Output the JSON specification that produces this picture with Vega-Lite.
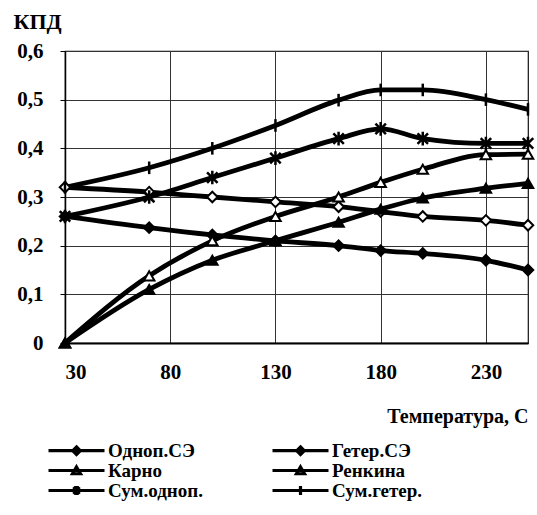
{
  "$schema": "https://vega.github.io/schema/vega-lite/v6.json",
  "width": 463,
  "height": 292,
  "autosize": {"type": "none"},
  "padding": {"left": 65, "top": 51, "right": 9, "bottom": 172},
  "background": "white",
  "config": {
    "font": "Liberation Serif",
    "view": {"stroke": "#111", "strokeWidth": 1.2},
    "axis": {
      "labelFont": "Liberation Serif",
      "labelFontWeight": "bold",
      "labelFontSize": 21,
      "labelColor": "black",
      "titleFont": "Liberation Serif",
      "titleFontWeight": "bold",
      "titleFontSize": 20,
      "titleColor": "black",
      "gridColor": "#333",
      "gridWidth": 1,
      "gridOpacity": 1,
      "domainColor": "black",
      "tickColor": "black"
    },
    "legend": {
      "labelFont": "Liberation Serif",
      "labelFontWeight": "bold",
      "labelFontSize": 19,
      "labelColor": "black"
    }
  },
  "data": {
    "values": [
      {"t": 30, "series": "Одноп.СЭ", "v": 0.26},
      {"t": 70, "series": "Одноп.СЭ", "v": 0.237},
      {"t": 100, "series": "Одноп.СЭ", "v": 0.222},
      {"t": 130, "series": "Одноп.СЭ", "v": 0.21},
      {"t": 160, "series": "Одноп.СЭ", "v": 0.2},
      {"t": 180, "series": "Одноп.СЭ", "v": 0.19},
      {"t": 200, "series": "Одноп.СЭ", "v": 0.184},
      {"t": 230, "series": "Одноп.СЭ", "v": 0.17},
      {"t": 250, "series": "Одноп.СЭ", "v": 0.15},
      {"t": 30, "series": "Гетер.СЭ", "v": 0.32},
      {"t": 70, "series": "Гетер.СЭ", "v": 0.31},
      {"t": 100, "series": "Гетер.СЭ", "v": 0.3},
      {"t": 130, "series": "Гетер.СЭ", "v": 0.29},
      {"t": 160, "series": "Гетер.СЭ", "v": 0.28},
      {"t": 180, "series": "Гетер.СЭ", "v": 0.27},
      {"t": 200, "series": "Гетер.СЭ", "v": 0.26},
      {"t": 230, "series": "Гетер.СЭ", "v": 0.252},
      {"t": 250, "series": "Гетер.СЭ", "v": 0.242},
      {"t": 30, "series": "Карно", "v": 0.0},
      {"t": 70, "series": "Карно", "v": 0.138},
      {"t": 100, "series": "Карно", "v": 0.21},
      {"t": 130, "series": "Карно", "v": 0.26},
      {"t": 160, "series": "Карно", "v": 0.3},
      {"t": 180, "series": "Карно", "v": 0.33},
      {"t": 200, "series": "Карно", "v": 0.357},
      {"t": 230, "series": "Карно", "v": 0.387},
      {"t": 250, "series": "Карно", "v": 0.388},
      {"t": 30, "series": "Ренкина", "v": 0.0},
      {"t": 70, "series": "Ренкина", "v": 0.11},
      {"t": 100, "series": "Ренкина", "v": 0.17},
      {"t": 130, "series": "Ренкина", "v": 0.21},
      {"t": 160, "series": "Ренкина", "v": 0.248},
      {"t": 180, "series": "Ренкина", "v": 0.275},
      {"t": 200, "series": "Ренкина", "v": 0.298},
      {"t": 230, "series": "Ренкина", "v": 0.318},
      {"t": 250, "series": "Ренкина", "v": 0.328},
      {"t": 30, "series": "Сум.одноп.", "v": 0.26},
      {"t": 70, "series": "Сум.одноп.", "v": 0.3},
      {"t": 100, "series": "Сум.одноп.", "v": 0.34},
      {"t": 130, "series": "Сум.одноп.", "v": 0.38},
      {"t": 160, "series": "Сум.одноп.", "v": 0.42},
      {"t": 180, "series": "Сум.одноп.", "v": 0.44},
      {"t": 200, "series": "Сум.одноп.", "v": 0.42},
      {"t": 230, "series": "Сум.одноп.", "v": 0.41},
      {"t": 250, "series": "Сум.одноп.", "v": 0.41},
      {"t": 30, "series": "Сум.гетер.", "v": 0.32},
      {"t": 70, "series": "Сум.гетер.", "v": 0.36},
      {"t": 100, "series": "Сум.гетер.", "v": 0.4},
      {"t": 130, "series": "Сум.гетер.", "v": 0.447},
      {"t": 160, "series": "Сум.гетер.", "v": 0.499},
      {"t": 180, "series": "Сум.гетер.", "v": 0.52},
      {"t": 200, "series": "Сум.гетер.", "v": 0.52},
      {"t": 230, "series": "Сум.гетер.", "v": 0.5},
      {"t": 250, "series": "Сум.гетер.", "v": 0.48}
    ]
  },
  "encoding": {
    "x": {
      "field": "t",
      "type": "quantitative",
      "scale": {"domain": [30, 250], "nice": false, "zero": false},
      "axis": {
        "values": [30, 80, 130, 180, 230],
        "grid": true,
        "ticks": false,
        "domainWidth": 2,
        "labelPadding": 18,
        "title": "Температура, С",
        "titleAnchor": "end",
        "titleAlign": "right",
        "titleX": 463,
        "titleY": 79,
        "titleBaseline": "alphabetic"
      }
    },
    "y": {
      "field": "v",
      "type": "quantitative",
      "scale": {"domain": [0, 0.6], "nice": false},
      "axis": {
        "values": [0, 0.1, 0.2, 0.3, 0.4, 0.5, 0.6],
        "format": ".1~f",
        "labelExpr": "replace(datum.label, '.', ',')",
        "grid": true,
        "ticks": true,
        "tickSize": 5,
        "domainWidth": 1.5,
        "labelPadding": 17,
        "title": "КПД",
        "titleFontSize": 22,
        "titleAngle": 0,
        "titleAlign": "left",
        "titleBaseline": "alphabetic",
        "titleX": -52,
        "titleY": -23
      }
    }
  },
  "layer": [
    {
      "mark": {"type": "line", "interpolate": "monotone", "strokeWidth": 4.8, "color": "black"},
      "encoding": {"detail": {"field": "series"}}
    },
    {
      "transform": [{"filter": "datum.series === 'Одноп.СЭ'"}],
      "mark": {"type": "point", "shape": "diamond", "filled": true, "fill": "black", "stroke": "black", "strokeWidth": 2, "size": 110, "opacity": 1}
    },
    {
      "transform": [{"filter": "datum.series === 'Гетер.СЭ'"}],
      "mark": {"type": "point", "shape": "diamond", "filled": true, "fill": "white", "stroke": "black", "strokeWidth": 2, "size": 110, "opacity": 1}
    },
    {
      "transform": [{"filter": "datum.series === 'Карно'"}],
      "mark": {"type": "point", "shape": "triangle-up", "filled": true, "fill": "white", "stroke": "black", "strokeWidth": 2, "size": 110, "opacity": 1}
    },
    {
      "transform": [{"filter": "datum.series === 'Ренкина'"}],
      "mark": {"type": "point", "shape": "triangle-up", "filled": true, "fill": "black", "stroke": "black", "strokeWidth": 2, "size": 110, "opacity": 1}
    },
    {
      "transform": [{"filter": "datum.series === 'Сум.одноп.'"}],
      "mark": {"type": "point", "shape": "M-1,-1L1,1M-1,1L1,-1M0,-1.3V1.3", "filled": false, "stroke": "black", "strokeWidth": 2.5, "size": 110, "opacity": 1}
    },
    {
      "transform": [{"filter": "datum.series === 'Сум.гетер.'"}],
      "mark": {"type": "point", "shape": "M0,-1.2V1.2", "filled": false, "stroke": "black", "strokeWidth": 2.5, "size": 110, "opacity": 1}
    },
    {
      "mark": {"type": "point", "filled": false, "stroke": "black", "strokeWidth": 3.2, "opacity": 0, "size": 1},
      "encoding": {
        "shape": {
          "field": "series",
          "scale": {
            "domain": ["Одноп.СЭ", "Гетер.СЭ", "Карно", "Ренкина", "Сум.одноп.", "Сум.гетер."],
            "range": [
              "M-5.6,0H5.6M0,-0.75L0.75,0L0,0.75L-0.75,0Z",
              "M-5.6,0H5.6M0,-0.75L0.75,0L0,0.75L-0.75,0Z",
              "M-5.6,0H5.6M0,-0.7L0.8,0.65L-0.8,0.65Z",
              "M-5.6,0H5.6M0,-0.7L0.8,0.65L-0.8,0.65Z",
              "M-5.6,0H5.6M-0.6,-0.7L0.6,0.7M-0.6,0.7L0.6,-0.7M0,-0.9V0.9",
              "M-5.6,0H5.6M0,-0.9V0.9"
            ]
          },
          "legend": {
            "title": null,
            "orient": "none",
            "legendX": 2,
            "legendY": 390,
            "padding": 0,
            "columns": 2,
            "direction": "horizontal",
            "symbolSize": 100,
            "symbolOpacity": 1,
            "symbolStrokeColor": "black",
            "symbolStrokeWidth": 3.2,
            "labelOffset": 22,
            "rowPadding": -4,
            "columnPadding": 63
          }
        }
      }
    }
  ]
}
